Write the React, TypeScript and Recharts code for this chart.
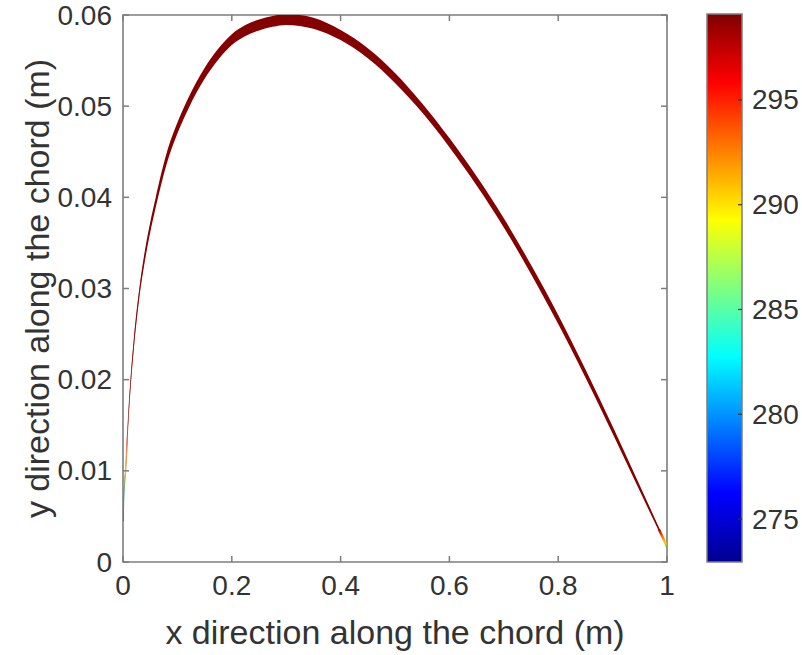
import React from 'react';
import { ComposedChart, Area, Line, XAxis, YAxis, ReferenceArea } from 'recharts';

// chord position (m) and the camber line / thickness of the section (m)
const chordX = [
  0, 0.001, 0.003, 0.005, 0.008, 0.01, 0.015, 0.02, 0.03, 0.04, 0.05, 0.06, 0.08, 0.1, 0.12, 0.15, 0.175,
  0.2, 0.225, 0.25, 0.275, 0.3, 0.325, 0.35, 0.4, 0.45, 0.5, 0.55, 0.6, 0.65, 0.7, 0.75, 0.8, 0.85, 0.9,
  0.95, 0.985, 1,
];
const camberY = [
  0.0045, 0.0068, 0.0088, 0.0102, 0.0138, 0.016, 0.0205, 0.024, 0.0295, 0.0335, 0.0367, 0.0394, 0.0442,
  0.0476, 0.0503, 0.0536, 0.0557, 0.0573, 0.0583, 0.0589, 0.0593, 0.0595, 0.0594, 0.0591, 0.0578, 0.0558,
  0.0531, 0.0498, 0.046, 0.0418, 0.0372, 0.0321, 0.0266, 0.0207, 0.0145, 0.0081, 0.0036, 0.0017,
];
const thicknessY = [
  0, 0.0003, 0.0005, 0.0006, 0.0007, 0.0008, 0.0009, 0.001, 0.001, 0.0011, 0.0011, 0.0011, 0.0012, 0.0012,
  0.0012, 0.0012, 0.0012, 0.0012, 0.0012, 0.0012, 0.0012, 0.0012, 0.0012, 0.0012, 0.0011, 0.0011, 0.0011,
  0.001, 0.001, 0.001, 0.001, 0.001, 0.001, 0.0009, 0.0008, 0.0006, 0.0004, 0.0002,
];

const xTicks = [0, 0.2, 0.4, 0.6, 0.8, 1];
const yTicks = [0, 0.01, 0.02, 0.03, 0.04, 0.05, 0.06];
const tempTicks = [275, 280, 285, 290, 295];
const tempRange = [272.95, 299.1];

const FONT = '"Liberation Sans", Arial, Helvetica, sans-serif';
const AXIS = '#7d7d7d';
const TEXT = '#333333';
const TICK_FONT = 28;
const LABEL_FONT = 34;

// plot box edges (px), used for the mirrored inner ticks
const PLOT_TOP = 15;
const PLOT_RIGHT = 667;

const rows = chordX.map((x, i) => ({
  x,
  center: camberY[i],
  band: [camberY[i] - thicknessY[i] / 2, camberY[i] + thicknessY[i] / 2],
  lead: x <= 0.008 ? camberY[i] : null,
  trail: x >= 0.985 ? camberY[i] : null,
}));

const BottomTick = (props: any) => {
  const { x, y, payload } = props;
  return (
    <g>
      <line x1={x} y1={y} x2={x} y2={y - 6} stroke={AXIS} strokeWidth={1.5} />
      <line x1={x} y1={PLOT_TOP} x2={x} y2={PLOT_TOP + 6} stroke={AXIS} strokeWidth={1.5} />
      <text x={x} y={y + 23} textAnchor="middle" dominantBaseline="central" fill={TEXT} fontSize={TICK_FONT} fontFamily={FONT}>
        {payload.value}
      </text>
    </g>
  );
};

const LeftTick = (props: any) => {
  const { x, y, payload } = props;
  return (
    <g>
      <line x1={x} y1={y} x2={x + 6} y2={y} stroke={AXIS} strokeWidth={1.5} />
      <line x1={PLOT_RIGHT} y1={y} x2={PLOT_RIGHT - 6} y2={y} stroke={AXIS} strokeWidth={1.5} />
      <text x={x - 11} y={y} textAnchor="end" dominantBaseline="central" fill={TEXT} fontSize={TICK_FONT} fontFamily={FONT}>
        {payload.value}
      </text>
    </g>
  );
};

const BarTick = (props: any) => {
  const { x, y, payload } = props;
  return (
    <g>
      <line x1={x - 4} y1={y} x2={x} y2={y} stroke="#333" strokeWidth={1.2} />
      <text x={x + 10} y={y} textAnchor="start" dominantBaseline="central" fill={TEXT} fontSize={TICK_FONT} fontFamily={FONT}>
        {payload.value}
      </text>
    </g>
  );
};

export default function App() {
  return (
    <div style={{ position: 'absolute', left: 0, top: 0, width: 802, height: 655, background: '#fff' }}>
      <svg width={0} height={0} style={{ position: 'absolute' }}>
        <defs>
          <linearGradient id="jet" x1="0" y1="1" x2="0" y2="0">
            <stop offset="0" stopColor="#000090" />
            <stop offset="0.125" stopColor="#0000ff" />
            <stop offset="0.375" stopColor="#00ffff" />
            <stop offset="0.625" stopColor="#ffff00" />
            <stop offset="0.875" stopColor="#ff0000" />
            <stop offset="1" stopColor="#800000" />
          </linearGradient>
          <linearGradient id="leadEdge" x1="0" y1="0" x2="0" y2="1">
            <stop offset="0" stopColor="#e06a6a" />
            <stop offset="0.22" stopColor="#f0a050" />
            <stop offset="0.42" stopColor="#e2dc40" />
            <stop offset="0.7" stopColor="#40b0a0" />
            <stop offset="1" stopColor="#3070c0" />
          </linearGradient>
          <linearGradient id="trailEdge" x1="0" y1="0" x2="0" y2="1">
            <stop offset="0" stopColor="#a00000" />
            <stop offset="0.4" stopColor="#ff6000" />
            <stop offset="0.75" stopColor="#ffd000" />
            <stop offset="1" stopColor="#80c040" />
          </linearGradient>
        </defs>
      </svg>

      <div style={{ position: 'absolute', left: 0, top: 0 }}>
        <ComposedChart width={700} height={655} data={rows} margin={{ top: 15, right: 33, bottom: 0, left: 0 }}>
          <XAxis
            dataKey="x"
            type="number"
            domain={[0, 1]}
            ticks={xTicks}
            allowDataOverflow
            height={93}
            tickSize={0}
            tickMargin={0}
            tickLine={false}
            axisLine={false}
            tick={<BottomTick />}
            label={{
              value: 'x direction along the chord (m)',
              position: 'insideBottom',
              offset: 11,
              fill: TEXT,
              fontSize: LABEL_FONT,
              fontFamily: FONT,
            }}
          />
          <YAxis
            type="number"
            domain={[0, 0.06]}
            ticks={yTicks}
            allowDataOverflow
            width={123}
            tickSize={0}
            tickMargin={0}
            tickLine={false}
            axisLine={false}
            tick={<LeftTick />}
            label={{
              value: 'y direction along the chord (m)',
              angle: -90,
              position: 'insideLeft',
              offset: 37,
              fill: TEXT,
              fontSize: LABEL_FONT,
              fontFamily: FONT,
              style: { textAnchor: 'middle' },
            }}
          />
          <ReferenceArea x1={0} x2={1} y1={0} y2={0.06} fill="none" stroke={AXIS} strokeWidth={1.6} />
          <Line
            dataKey="center"
            type="monotone"
            stroke="#8b0000"
            strokeOpacity={0.5}
            strokeWidth={1}
            dot={false}
            isAnimationActive={false}
          />
          <Area
            dataKey="band"
            type="monotone"
            fill="#850000"
            fillOpacity={1}
            stroke="none"
            isAnimationActive={false}
          />
          <Line
            dataKey="lead"
            type="monotone"
            stroke="url(#leadEdge)"
            strokeOpacity={0.8}
            strokeWidth={1.5}
            dot={false}
            isAnimationActive={false}
          />
          <Line
            dataKey="trail"
            type="monotone"
            stroke="url(#trailEdge)"
            strokeWidth={2.5}
            dot={false}
            isAnimationActive={false}
          />
        </ComposedChart>
      </div>

      <div style={{ position: 'absolute', left: 700, top: 0 }}>
        <ComposedChart width={102} height={655} data={[{ x: 0 }, { x: 1 }]} margin={{ top: 14, right: 0, bottom: 93, left: 7 }}>
          <XAxis dataKey="x" type="number" domain={[0, 1]} hide />
          <YAxis
            orientation="right"
            type="number"
            domain={tempRange}
            ticks={tempTicks}
            allowDataOverflow
            width={60}
            tickSize={0}
            tickMargin={0}
            tickLine={false}
            axisLine={false}
            tick={<BarTick />}
          />
          <ReferenceArea
            y1={tempRange[0]}
            y2={tempRange[1]}
            fill="url(#jet)"
            fillOpacity={1}
            stroke={AXIS}
            strokeWidth={1.5}
          />
        </ComposedChart>
      </div>
    </div>
  );
}
